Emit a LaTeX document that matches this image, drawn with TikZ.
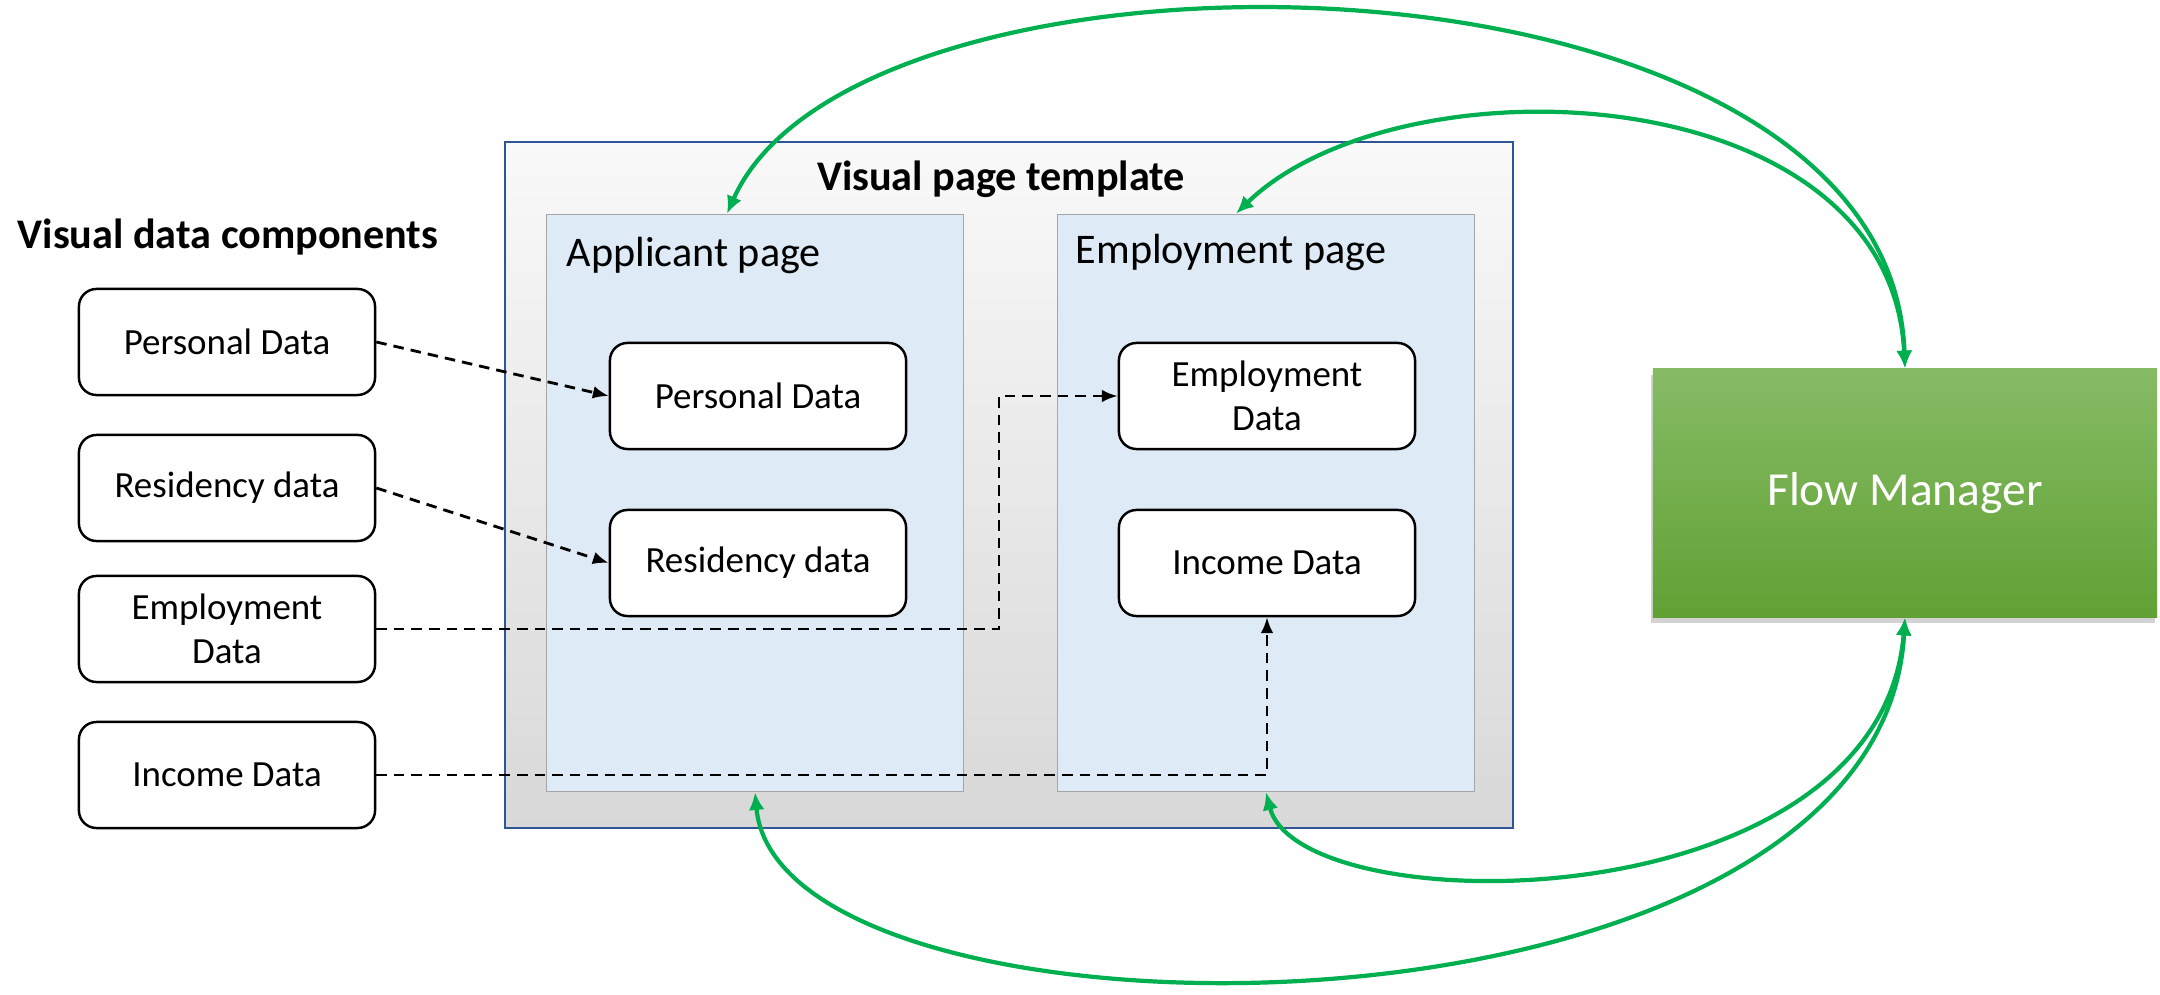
\documentclass[tikz,border=0pt]{standalone}
\usepackage{fontspec}
\setmainfont{Carlito}
\usetikzlibrary{arrows.meta,positioning,shadows,calc}
\definecolor{flowgreen}{RGB}{0,176,80}
\definecolor{fmtop}{RGB}{134,187,101}
\definecolor{fmbot}{RGB}{97,161,52}
\definecolor{frameblue}{RGB}{47,85,151}
\definecolor{panelblue}{RGB}{222,234,246}
\definecolor{panelgray}{RGB}{166,166,166}
\definecolor{lightgray}{RGB}{249,249,249}
\definecolor{darkgray}{RGB}{216,216,216}
\tikzset{
  >={Latex[length=4.5pt,width=3.6pt]},
  comp/.style={draw=black,fill=white,rounded corners=5pt,line width=0.7pt,
    minimum width=2.96cm,minimum height=1.06cm,inner sep=0pt,align=center,
    font=\fontsize{10.5}{12.5}\selectfont},
  panel/.style={draw=panelgray,fill=panelblue,line width=0.4pt,
    minimum width=4.17cm,minimum height=5.77cm,inner sep=0pt},
  heading/.style={inner sep=0pt,font=\fontsize{12}{14}\selectfont\bfseries},
  pagetitle/.style={inner sep=0pt,anchor=west,font=\fontsize{12}{14}\selectfont},
  feed/.style={->,dash pattern=on 3pt off 2pt,line width=0.8pt},
  sync/.style={{Latex[length=5pt,width=4.5pt]}-{Latex[length=5pt,width=4.5pt]},
    draw=flowgreen,line width=1.2pt},
}

\begin{document}
\begin{tikzpicture}[x=0.01cm,y=-0.01cm]
  \useasboundingbox (0,0) rectangle (2160,995);
  % template and pages
  \node[draw=frameblue,line width=0.7pt,top color=lightgray,bottom color=darkgray,
    minimum width=10.07cm,minimum height=6.86cm,inner sep=0pt] (tmpl) at (1009,485) {};
  \node[heading] (tmpltitle) at (1001,179) {Visual page template};
  \node[panel] (app) at (755,503) {};
  \node[panel] (emp) at (1266,503) {};
  \node[pagetitle] (apptitle) at (566,255) {Applicant page};
  \node[pagetitle] (emptitle) at (1075,252) {Employment page};
  \node[comp] (apers) at (758,396) {Personal Data};
  \node[comp] (ares) at (758,563) {Residency data};
  \node[comp] (eemp) at (1267,396) {Employment\\Data};
  \node[comp] (einc) at (1267,563) {Income Data};
  % components
  \node[heading,anchor=west] (comptitle) at (17,237) {Visual data components};
  \foreach \n/\y/\t in {lpers/342/Personal Data,lres/488/Residency data,
    lemp/629/{Employment\\Data},linc/775/Income Data}
    \node[comp] (\n) at (227,\y) {\t};
  % flow manager
  \node[top color=fmtop,bottom color=fmbot,text=white,minimum width=5.04cm,
    minimum height=2.48cm,inner sep=0pt,font=\fontsize{13.5}{16}\selectfont,
    drop shadow={opacity=0.35,shadow xshift=-0.6pt,shadow yshift=-1.8pt}] (fm) at (1905,493) {Flow Manager};
  % dashed links
  \coordinate (bend) at (999,0);
  \draw[feed] (lpers.east) -- (apers.west);
  \draw[feed] (lres.east) -- (ares.west);
  \draw[feed] (lemp.east) -- (lemp.east -| bend) |- (eemp.west);
  \draw[feed] (linc.east) -| (einc.south);
  % flow manager links
  \coordinate (apptop) at ($(app.north)+(-28,0)$);
  \coordinate (emptop) at ($(emp.north)+(-30,0)$);
  \draw[sync] (fm.north) .. controls (1890,-70) and (860,-85) .. (apptop);
  \draw[sync] (fm.north) .. controls (1890,75) and (1400,55) .. (emptop);
  \draw[sync] (fm.south) .. controls (1880,1065) and (780,1065) .. (app.south);
  \draw[sync] (fm.south) .. controls (1880,925) and (1300,925) .. (emp.south);
\end{tikzpicture}
\end{document}
